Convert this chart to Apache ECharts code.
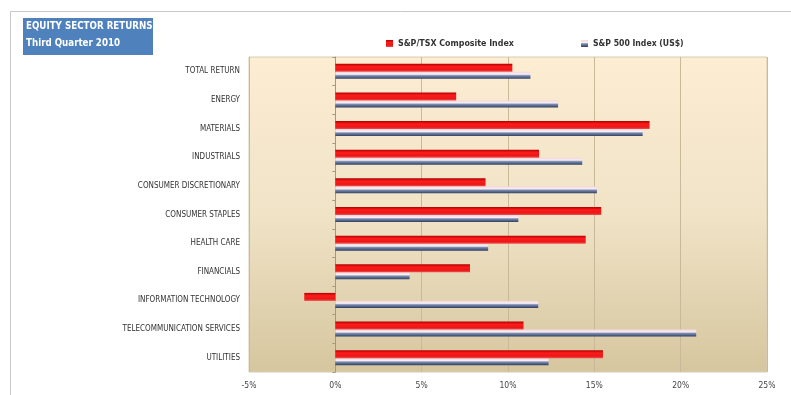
<!DOCTYPE html>
<html>
<head>
<meta charset="utf-8">
<script src="https://cdn.jsdelivr.net/npm/echarts@6/dist/echarts.min.js"></script>
<style>
html,body{margin:0;padding:0;background:#fff;}
#c{width:791px;height:395px;}
</style>
</head>
<body>
<div id="c"></div>
<script>
var categories = ["TOTAL RETURN","ENERGY","MATERIALS","INDUSTRIALS","CONSUMER DISCRETIONARY","CONSUMER STAPLES","HEALTH CARE","FINANCIALS","INFORMATION TECHNOLOGY","TELECOMMUNICATION SERVICES","UTILITIES"];
var tsxValues = [10.25, 7.0, 18.2, 11.8, 8.7, 15.4, 14.5, 7.8, -1.8, 10.9, 15.5];
var spValues = [11.3, 12.9, 17.8, 14.3, 15.15, 10.6, 8.85, 4.3, 11.75, 20.9, 12.35];
var seriesNames = ["S&P/TSX Composite Index", "S&P 500 Index (US$)"];
var titleLines = ["EQUITY SECTOR RETURNS", "Third Quarter 2010"];
var xTicks = {min: -5, max: 25, interval: 5};

var FONT = "'Liberation Sans Narrow','DejaVu Sans Condensed','Liberation Sans',sans-serif";
var chart = echarts.init(document.getElementById('c'), null, {renderer: 'canvas'});

var redGrad = new echarts.graphic.LinearGradient(0,0,0,1,[
  {offset:0, color:'#b00000'},
  {offset:0.35, color:'#ff1a1a'},
  {offset:0.75, color:'#e81818'},
  {offset:1, color:'#f05050'}
]);
var blueGrad = new echarts.graphic.LinearGradient(0,0,0,1,[
  {offset:0, color:'#f4d4dc'},
  {offset:0.35, color:'#f8f0f4'},
  {offset:0.55, color:'#7c8cb0'},
  {offset:1, color:'#2e3f62'}
]);

var option = {
  animation: false,
  backgroundColor: '#ffffff',
  legend: [{
    data: [seriesNames[0]],
    left: 381, top: 34,
    icon: 'rect', itemWidth: 7, itemHeight: 7, itemGap: 4,
    textStyle: {color:'#333', fontSize: 8.8, fontWeight:'bold', fontFamily: FONT}
  },{
    data: [seriesNames[1]],
    left: 576, top: 34,
    icon: 'rect', itemWidth: 7, itemHeight: 7, itemGap: 4,
    textStyle: {color:'#333', fontSize: 8.6, fontWeight:'bold', fontFamily: FONT}
  }],
  grid: {
    left: 249, right: 24, top: 57, bottom: 23,
    show: true,
    backgroundColor: new echarts.graphic.LinearGradient(0,0,0,1,[
      {offset:0, color:'#fdedd3'},
      {offset:0.5, color:'#f0e3c6'},
      {offset:1, color:'#d6c69f'}
    ]),
    borderColor: '#d8ccb2', borderWidth: 1
  },
  xAxis: {
    type: 'value',
    min: xTicks.min, max: xTicks.max, interval: xTicks.interval,
    axisLine: {show:false},
    axisTick: {show:false},
    splitLine: {show:true, lineStyle:{color:'#c8b998', width:1}},
    axisLabel: {formatter: '{value}%', color:'#444', fontSize: 8.5, fontFamily: FONT, margin: 9}
  },
  yAxis: {
    type: 'category',
    data: categories,
    inverse: true,
    axisLine: {show:true, onZero:true, lineStyle:{color:'#a89878'}},
    axisTick: {show:true, length:3, lineStyle:{color:'#a89878'}},
    axisLabel: {color:'#333', fontSize: 8, fontFamily: FONT, margin: 9},
    splitLine: {show:false}
  },
  series: [{
    name: seriesNames[0],
    type: 'bar',
    data: tsxValues,
    barWidth: 8,
    barGap: '0%',
    itemStyle: {color: redGrad},
    z: 3
  },{
    name: seriesNames[1],
    type: 'bar',
    data: spValues,
    barWidth: 7,
    barGap: '0%',
    itemStyle: {color: blueGrad},
    z: 2
  }],
  graphic: [{
    type: 'polyline',
    shape: {points: [[10.5, 395],[10.5, 11.5],[791, 11.5]]},
    style: {stroke:'#c8c8c8', lineWidth:1, fill:null},
    silent: true
  },{
    type: 'rect',
    shape: {x: 23, y: 18, width: 130, height: 37},
    style: {fill: '#4f81bd'},
    silent: true
  },{
    type: 'text',
    x: 26, y: 21, scaleX: 0.88, scaleY: 1,
    style: {text: titleLines[0], fill:'#ffffff', font: "bold 11px " + FONT},
    silent: true
  },{
    type: 'text',
    x: 26, y: 38, scaleX: 0.88, scaleY: 1,
    style: {text: titleLines[1], fill:'#ffffff', font: "bold 11px " + FONT},
    silent: true
  }]
};
chart.setOption(option);
</script>
</body>
</html>
